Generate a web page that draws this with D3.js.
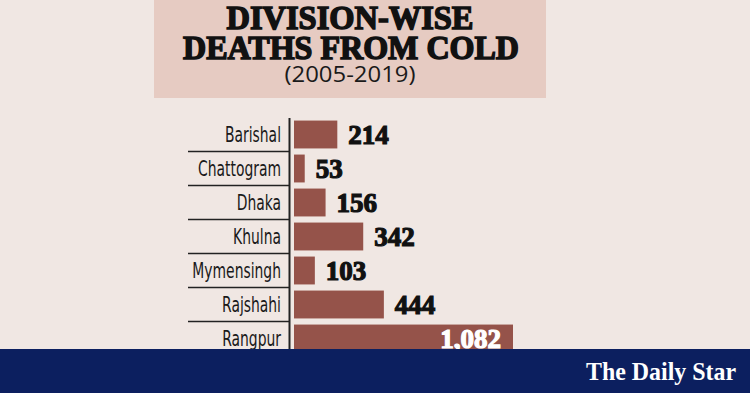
<!DOCTYPE html>
<html><head><meta charset="utf-8">
<script src="https://cdn.jsdelivr.net/npm/d3@7"></script>
<style>html,body{margin:0;padding:0;background:#f0e7e3;overflow:hidden}</style>
</head><body>
<script>
const categories = ["Barishal","Chattogram","Dhaka","Khulna","Mymensingh","Rajshahi","Rangpur"];
const deaths = [214, 53, 156, 342, 103, 444, 1082];
const valueLabels = ["214","53","156","342","103","444","1,082"];
const titleLines = ["DIVISION-WISE","DEATHS FROM COLD"];
const subtitle = "(2005-2019)";
const brand = "The Daily Star";

const W = 750, H = 393;
const svg = d3.select("body").append("svg").attr("width", W).attr("height", H);
svg.append("rect").attr("width", W).attr("height", H).attr("fill", "#f0e7e3");

// title box
svg.append("rect").attr("x",154).attr("y",0).attr("width",392).attr("height",98).attr("fill","#e6cbc2");
const tf = "'Liberation Serif','DejaVu Serif',serif";
svg.append("text").attr("x",350).attr("y",28.5).attr("text-anchor","middle")
  .attr("font-family",tf).attr("font-weight",900).attr("font-size",33)
  .attr("fill","#111").attr("stroke","#111").attr("stroke-width",1.5)
  .attr("textLength",247).attr("lengthAdjust","spacingAndGlyphs").text(titleLines[0]);
svg.append("text").attr("x",351).attr("y",59).attr("text-anchor","middle")
  .attr("font-family",tf).attr("font-weight",900).attr("font-size",33)
  .attr("fill","#111").attr("stroke","#111").attr("stroke-width",1.5)
  .attr("textLength",336).attr("lengthAdjust","spacingAndGlyphs").text(titleLines[1]);
svg.append("text").attr("x",350).attr("y",81.5).attr("text-anchor","middle")
  .attr("font-family","'Open Sans','Noto Sans',sans-serif").attr("font-size",22)
  .attr("fill","#1a1a1a")
  .attr("textLength",131).attr("lengthAdjust","spacingAndGlyphs").text(subtitle);

// scales
const y = d3.scaleBand().domain(categories).range([117.5, 355.5]).paddingInner(0.18).paddingOuter(0.09);
const x = d3.scaleLinear().domain([0, 1082]).range([294, 513]);

const step = y.step(), gap = step * y.paddingInner();

// separators
svg.append("g").selectAll("line").data(categories.slice(1)).join("line")
  .attr("x1",188).attr("x2",290)
  .attr("y1", d => y(d) - gap/2).attr("y2", d => y(d) - gap/2)
  .attr("stroke","#222").attr("stroke-width",1.4);

// axis line
svg.append("line").attr("x1",289.5).attr("x2",289.5).attr("y1",118).attr("y2",352)
  .attr("stroke","#222").attr("stroke-width",2);

// bars
svg.append("g").selectAll("rect").data(categories).join("rect")
  .attr("x", x(0)).attr("y", d => y(d))
  .attr("width", (d,i) => x(deaths[i]) - x(0)).attr("height", y.bandwidth())
  .attr("fill","#95534a");

// category labels (condensed look)
const labels = svg.append("g").selectAll("text").data(categories).join("text")
  .attr("x", 281).attr("y", d => y(d) + y.bandwidth()/2 + 7.5)
  .attr("text-anchor","end")
  .attr("font-family","'DejaVu Sans','Liberation Sans',sans-serif")
  .style("font-stretch","condensed")
  .attr("font-size",22).attr("fill","#1a1a1a").text(d => d);
const refLen = labels.filter(d => d === "Chattogram").node().getComputedTextLength();
const squeeze = 83 / refLen;
labels.each(function() {
  const len = this.getComputedTextLength();
  d3.select(this).attr("textLength", len * squeeze).attr("lengthAdjust","spacingAndGlyphs");
});

// value labels
const last = categories.length - 1;
svg.append("g").selectAll("text").data(categories).join("text")
  .attr("x", (d,i) => i === last ? x(deaths[i]) - 12 : x(deaths[i]) + 11)
  .attr("y", d => y(d) + y.bandwidth()/2 + 9.5)
  .attr("text-anchor", (d,i) => i === last ? "end" : "start")
  .attr("font-family", tf).attr("font-weight",900).attr("font-size",27)
  .attr("fill", (d,i) => i === last ? "#fff" : "#111")
  .attr("stroke", (d,i) => i === last ? "#fff" : "#111").attr("stroke-width",1.2)
  .text((d,i) => valueLabels[i]);

// bottom banner
svg.append("rect").attr("x",0).attr("y",349).attr("width",W).attr("height",H-349).attr("fill","#0c1f5f");
svg.append("text").attr("x",661).attr("y",380).attr("text-anchor","middle")
  .attr("font-family",tf).attr("font-weight",700).attr("font-size",25)
  .attr("fill","#fff").attr("textLength",150).attr("lengthAdjust","spacingAndGlyphs").text(brand);
</script>
</body></html>
